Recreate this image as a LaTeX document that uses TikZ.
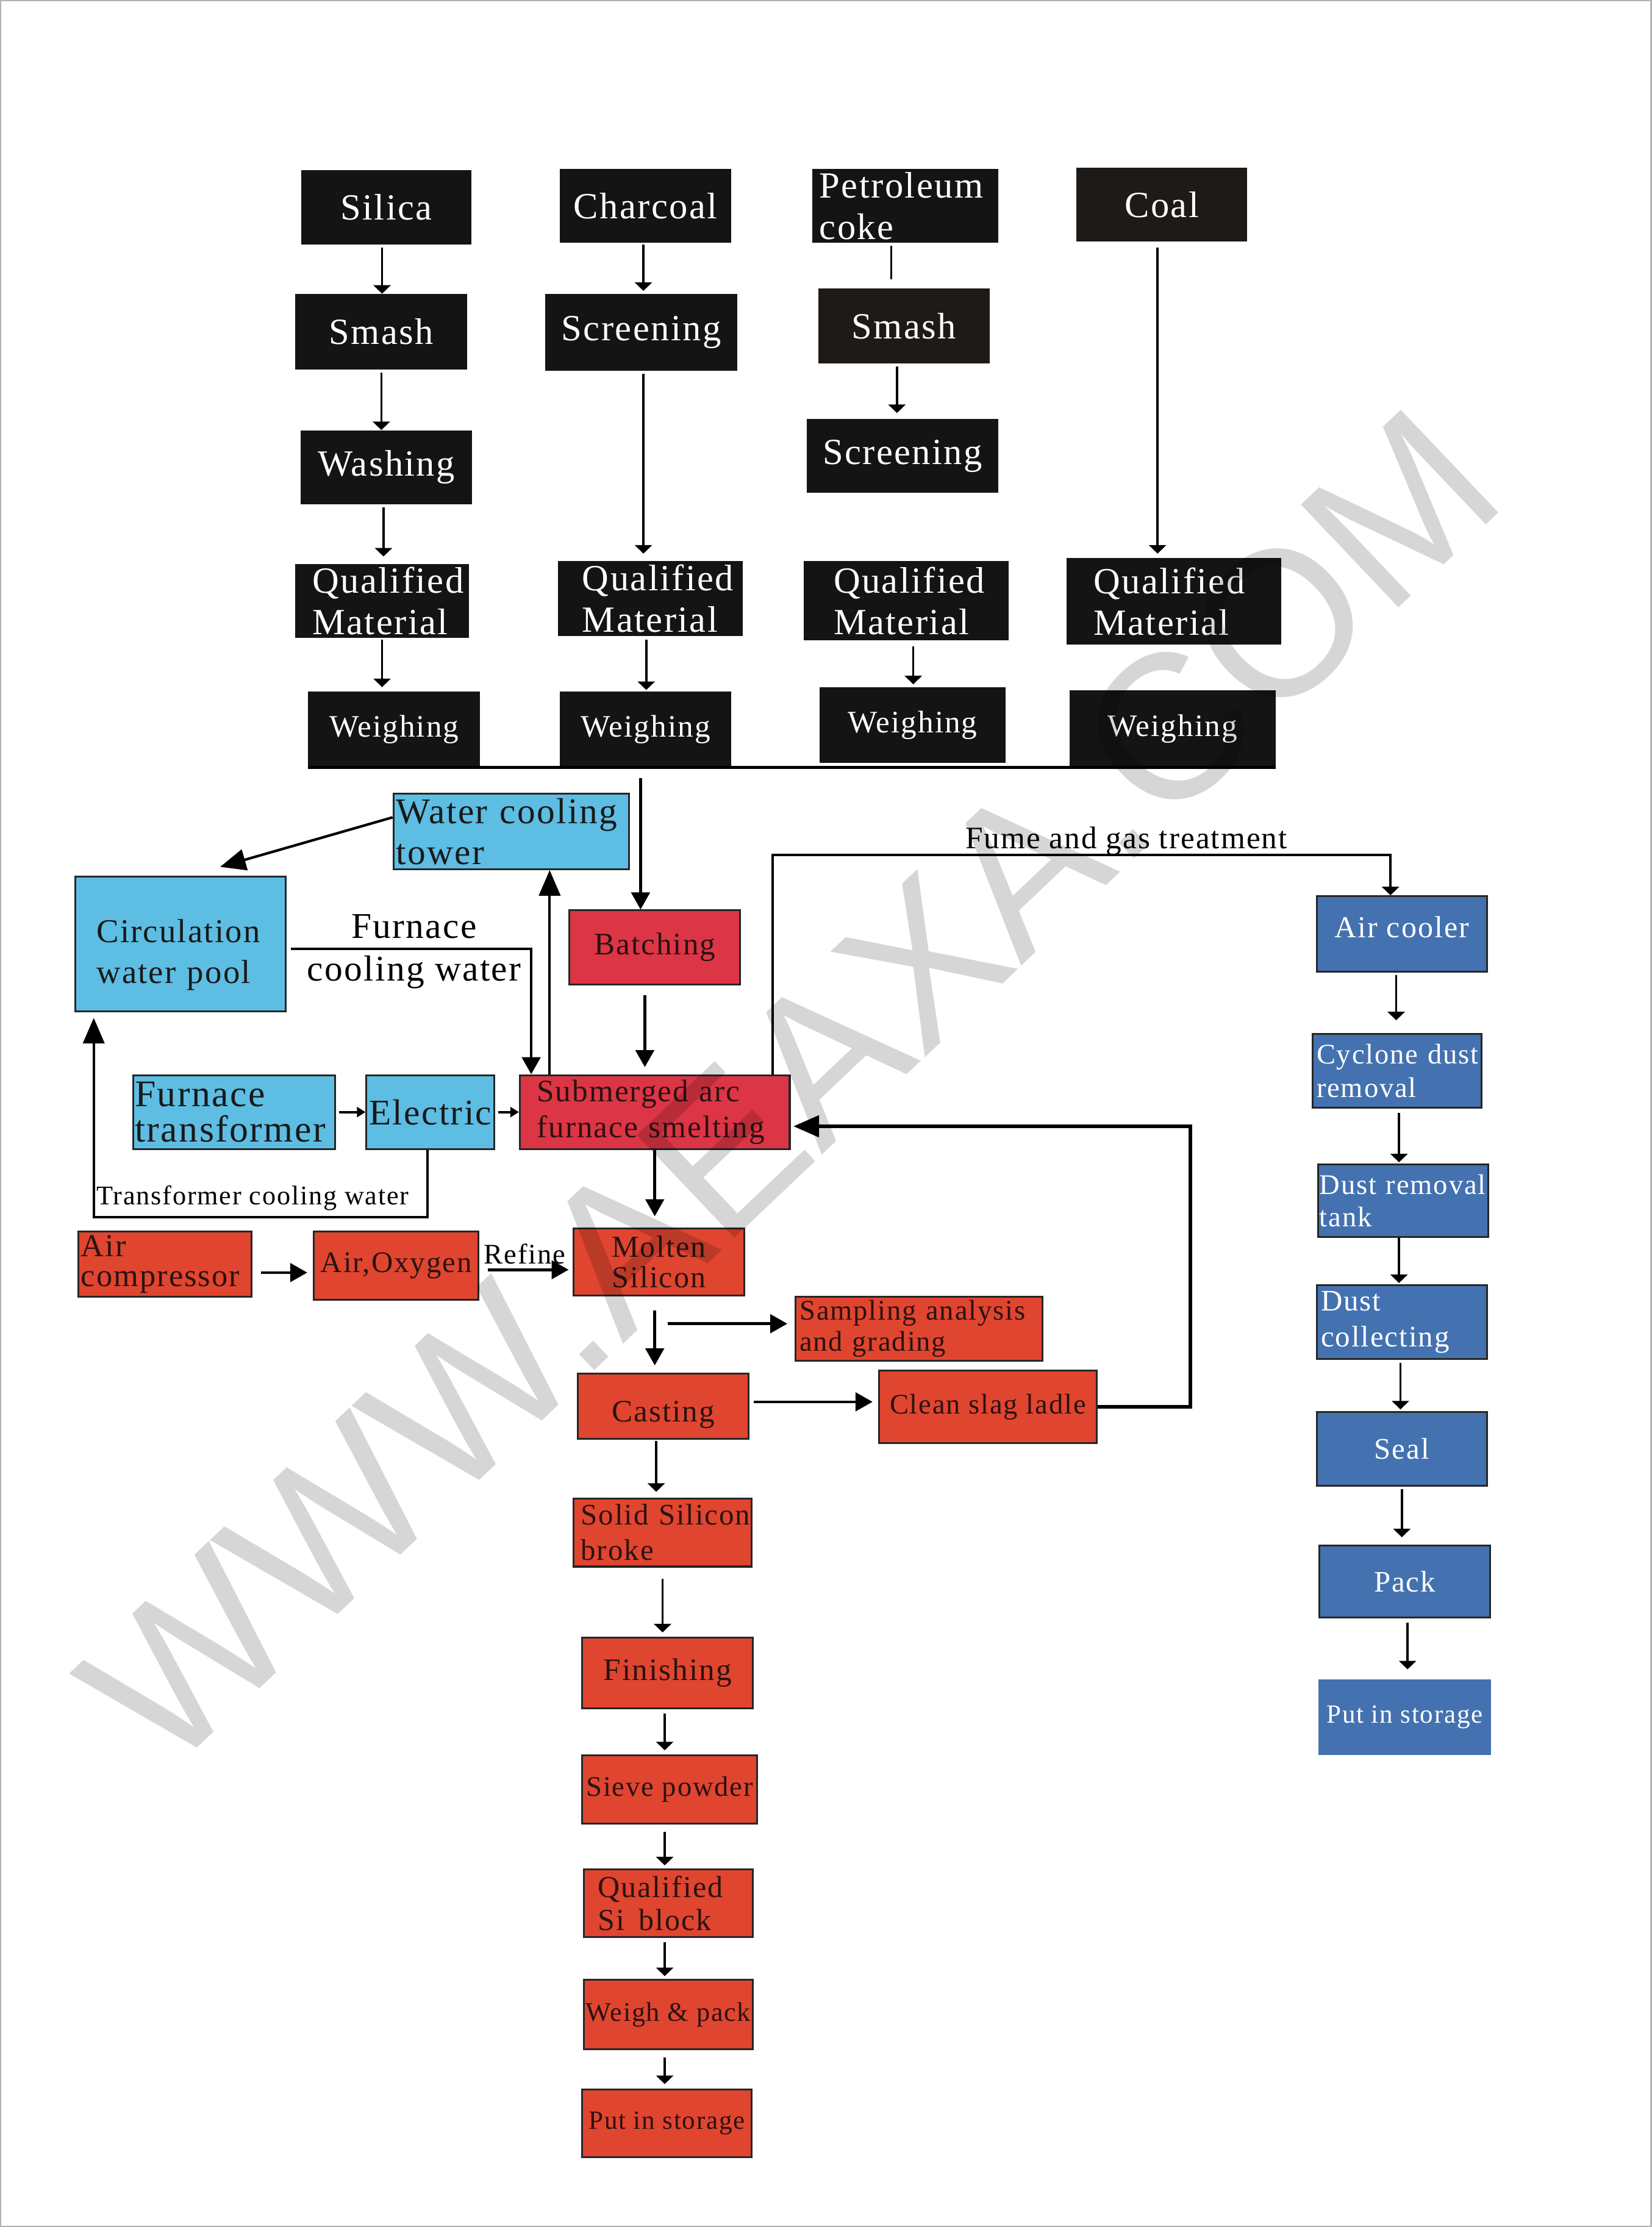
\documentclass[tikz,border=0pt]{standalone}
\usepackage{fontspec}
\setmainfont{Liberation Serif}[LetterSpace=4]
\newfontfamily\wmfont{Liberation Sans}
\usetikzlibrary{arrows.meta}

\definecolor{inkblk}{HTML}{141414}
\definecolor{inkbrn}{HTML}{1E1A17}
\definecolor{cyanfill}{HTML}{5DBDE3}
\definecolor{crimfill}{HTML}{DC3545}
\definecolor{redfill}{HTML}{E0452F}
\definecolor{bluefill}{HTML}{4472B0}
\definecolor{redtext}{HTML}{2A1212}

\newcommand{\fs}[2]{\fontsize{#1}{#2}\selectfont}
\hyphenpenalty=10000
\exhyphenpenalty=10000

\begin{document}
\begin{tikzpicture}[x=1pt, y=-1pt,
  box/.style 2 args={minimum width=#1, minimum height=#2, inner sep=0pt, align=left},
  lt/.style 2 args={text width=#1, inner xsep=#2, align=left},
  blk/.style={fill=inkblk, text=white, font=\fs{26}{29}},
  brn/.style={blk, fill=inkbrn},
  wgh/.style={blk, font=\fs{22}{26}},
  cyn/.style={fill=cyanfill, draw=black!85, line width=1.3pt, text=black!90, font=\fs{25.5}{29}},
  crm/.style={fill=crimfill, draw=black!85, line width=1.3pt, text=redtext, font=\fs{22}{25}},
  orn/.style={crm, fill=redfill, font=\fs{21}{22}},
  blu/.style={fill=bluefill, draw=black!85, line width=1.3pt, text=white, font=\fs{21}{24}},
  lbl/.style={text=black, font=\fs{21}{25}, inner sep=0pt},
  arr/.style={line width=1.6pt, -{Triangle[width=12pt,length=6pt]}},
  marr/.style={line width=2pt, -{Triangle[width=13pt,length=12pt]}},
  barr/.style={line width=1.8pt, -{Triangle[width=15pt,length=18pt]}},
  sarr/.style={line width=1.6pt, -{Triangle[width=7pt,length=6pt]}}
]
\useasboundingbox (0,0) rectangle (1163,1568);
\draw[gray!60, line width=1pt] (0.5,0.5) rectangle (1162.5,1567.5);

% raw materials
\draw (272,146) node[blk, box={120}{52}] (silica) {Silica};
\draw (454.5,145) node[blk, box={121}{52}] (charcoal) {Charcoal};
\draw (637.5,145) node[blk, box={131}{52}, lt={121pt}{5pt}] (petro) {Petroleum\\coke};
\draw (818,144) node[brn, box={120}{52}] (coal) {Coal};
\draw (268.5,233.5) node[blk, box={121}{53}] (smasha) {Smash};
\draw (451.5,234) node[blk, box={135}{54}] (screena) {Screening};
\draw (636.5,229.5) node[brn, box={121}{53}] (smashb) {Smash};
\draw (272,329) node[blk, box={121}{52}] (washing) {Washing};
\draw (635.5,321) node[blk, box={135}{52}] (screenb) {Screening};
\draw (269,423) node[blk, box={122}{52}, lt={98pt}{12pt}] (quala) {Qualified\\Material};
\draw (458,421.5) node[blk, box={130}{53}, lt={96pt}{17pt}] (qualb) {Qualified\\Material};
\draw (638,423) node[blk, box={144}{56}, lt={102pt}{21pt}] (qualc) {Qualified\\Material};
\draw (826.5,423.5) node[blk, box={151}{61}, lt={113pt}{19pt}] (quald) {Qualified\\Material};
\draw (277.5,513.5) node[wgh, box={121}{53}] (weigha) {Weighing};
\draw (454.5,513.5) node[wgh, box={121}{53}] (weighb) {Weighing};
\draw (642.5,510.5) node[wgh, box={131}{53}] (weighc) {Weighing};
\draw (825.5,513) node[wgh, box={145}{54}] (weighd) {Weighing};
\coordinate (busdrop) at (451,548);

% furnace and cooling water
\draw (360,585.5) node[cyn, box={166}{53}, lt={162pt}{2pt}] (tower) {\mbox{Water cooling}\\tower};
\draw (127,664.5) node[cyn, box={148}{95}, lt={118pt}{15pt}, font=\fs{23.5}{29}] (pool) {\rule{0pt}{32pt}Circulation\\\mbox{water pool}};
\draw (461,667) node[crm, box={120}{52}] (batching) {Batching};
\draw (461,783) node[crm, box={190}{52}, lt={166pt}{12pt}] (smelt) {\mbox{Submerged arc}\\\mbox{furnace smelting}};
\draw (165,783) node[cyn, box={142}{52}, lt={140pt}{1pt}, font=\fs{26.5}{25}] (transf) {Furnace\\transformer};
\draw (303,783) node[cyn, box={90}{52}] (electric) {Electric};
\draw (291.5,670) node[lbl, align=center, font=\fs{25.5}{30}] (fcwater) {Furnace\\cooling water};
\draw (178,848) node[lbl, anchor=base, font=\fs{19}{22}] (tcwater) {Transformer cooling water};
\draw (793,597.5) node[lbl, anchor=base, font=\fs{22}{25}] (fumegas) {Fume and gas treatment};
\coordinate (tcwbend) at (301,857);
\coordinate (fumetop) at (544,602);
\coordinate (slagturn) at (838,793);

% silicon line
\draw (116,890) node[orn, box={122}{46}, lt={118pt}{2pt}, font=\fs{22.5}{21}] (aircomp) {Air\\compressor};
\draw (279,891) node[orn, box={116}{48}] (airoxy) {Air,Oxygen};
\draw (369.5,890) node[lbl, anchor=base, font=\fs{20}{22}] (refine) {Refine};
\draw (464,888.5) node[orn, box={120}{47}, font=\fs{21.5}{21.5}] (molten) {Molten\\Silicon};
\draw (647,935.5) node[orn, box={174}{45}, lt={168pt}{3pt}, font=\fs{20}{22}] (sampling) {\mbox{Sampling analysis}\\\mbox{and grading}};
\coordinate (sampstart) at (470,932);
\draw (467,990) node[orn, box={120}{46}, font=\fs{22}{25}] (casting) {\rule{0pt}{27pt}Casting};
\draw (695.5,990.5) node[orn, box={153}{51}, font=\fs{20}{24}] (slag) {Clean slag ladle};
\draw (466.5,1079) node[orn, box={125}{48}, lt={115pt}{5pt}, font=\fs{21}{25}] (solid) {\mbox{Solid Silicon}\\broke};
\draw (470,1178) node[orn, box={120}{50}, font=\fs{22}{25}] (finishing) {Finishing};
\draw (471.5,1260) node[orn, box={123}{48}, font=\fs{20}{24}] (sieve) {Sieve powder};
\draw (470.5,1340) node[orn, box={119}{48}, lt={99pt}{10pt}, font=\fs{21.5}{23}] (qualsi) {Qualified\\\mbox{Si\hspace{10pt}block}};
\draw (470.5,1418.5) node[orn, box={119}{49}, font=\fs{19}{23}] (weighpack) {Weigh \& pack};
\draw (469.5,1495) node[orn, box={119}{48}, font=\fs{18.5}{22}] (storered) {Put in storage};

% gas line
\draw (987,657.5) node[blu, box={120}{53}, font=\fs{21.5}{24}] (aircooler) {\rule[-10pt]{0pt}{0pt}Air cooler};
\draw (983.5,754) node[blu, box={119}{52}, lt={113pt}{3pt}, font=\fs{20}{23.5}] (cyclone) {\mbox{Cyclone dust}\\removal};
\draw (988,845.5) node[blu, box={120}{51}, lt={118pt}{1pt}, font=\fs{20}{23}] (tank) {\mbox{Dust removal}\\tank};
\draw (987,931) node[blu, box={120}{52}, lt={114pt}{3pt}, font=\fs{21}{25.5}] (collecting) {Dust\\collecting};
\draw (987,1020) node[blu, box={120}{52}] (seal) {Seal};
\draw (989,1113.5) node[blu, box={120}{51}] (pack) {Pack};
\draw (989,1209) node[blu, box={120}{52}, draw=bluefill, font=\fs{18.5}{22}] (storeblue) {Put in storage};

% arrows, raw materials
\draw[arr, shorten <=2pt] ([xshift=-3pt]silica.south) -- ([xshift=-3pt]silica.south |- smasha.north);
\draw[arr, shorten <=2pt] (smasha.south) -- (smasha.south |- washing.north);
\draw[arr, shorten <=2pt, shorten >=5pt] ([xshift=-2pt]washing.south) -- ([xshift=-2pt]washing.south |- quala.north);
\draw[arr, shorten <=1pt, shorten >=3pt] (quala.south) -- (quala.south |- weigha.north);
\draw[arr, shorten <=1pt, shorten >=2pt] ([xshift=-1.5pt]charcoal.south) -- ([xshift=-1.5pt]charcoal.south |- screena.north);
\draw[arr, shorten <=2pt, shorten >=5pt] ([xshift=1.5pt]screena.south) -- ([xshift=1.5pt]screena.south |- qualb.north);
\draw[arr, shorten <=2pt, shorten >=1pt] ([xshift=-3pt]qualb.south) -- ([xshift=-3pt]qualb.south |- weighb.north);
\draw[line width=1.6pt, shorten <=2pt, shorten >=6pt] ([xshift=-10pt]petro.south) -- ([xshift=-10pt]petro.south |- smashb.north);
\draw[arr, shorten <=2pt, shorten >=4pt] ([xshift=-5pt]smashb.south) -- ([xshift=-5pt]smashb.south |- screenb.north);
\draw[arr, shorten <=4pt, shorten >=2pt] ([xshift=5pt]qualc.south) -- ([xshift=5pt]qualc.south |- weighc.north);
\draw[arr, shorten <=4pt, shorten >=3pt] ([xshift=-3pt]coal.south) -- ([xshift=-3pt]coal.south |- quald.north);
\draw[line width=2pt] (weigha.south west) -- (weighd.south east);
\draw[marr] (busdrop) -- (busdrop |- batching.north);

% arrows, furnace and cooling water
\draw[marr, shorten <=7pt, shorten >=5pt] ([xshift=-7pt]batching.south) -- ([xshift=-7pt]batching.south |- smelt.north);
\draw[barr] ([yshift=10pt]tower.west) -- ([xshift=28pt,yshift=6pt]pool.north);
\draw[marr] ([xshift=3pt,yshift=-3.5pt]pool.east) -| ([xshift=-87pt]smelt.north);
\draw[barr] ([xshift=-74pt]smelt.north) -- ([xshift=-74pt]smelt.north |- tower.south);
\draw[sarr, shorten <=2pt] (transf.east) -- (electric.west);
\draw[sarr, shorten <=2pt] (electric.east) -- (smelt.west);
\draw[barr] ([xshift=-2pt]electric.south) -- (tcwbend) -| ([xshift=-61pt,yshift=-4pt]pool.south);
\draw[arr] (smelt.north -| fumetop) -- (fumetop) -| ([xshift=-8pt]aircooler.north);
\draw[barr, line width=2.5pt, shorten >=2pt] (slag.east) -| (slagturn) -- ([yshift=-10pt]smelt.east);

% arrows, silicon line
\draw[marr, shorten >=8pt] (smelt.south) -- (smelt.south |- molten.north);
\draw[marr, shorten <=6pt, shorten >=4pt] ([yshift=-6pt]aircomp.east) -- ([yshift=-6pt]aircomp.east -| airoxy.west);
\draw[marr, shorten <=6pt, shorten >=3pt] ([yshift=-3pt]airoxy.east) -- ([yshift=-3pt]airoxy.east -| molten.west);
\draw[marr, shorten <=10pt, shorten >=5pt] ([xshift=-3pt]molten.south) -- ([xshift=-3pt]molten.south |- casting.north);
\draw[marr, shorten >=5pt] (sampstart) -- (sampstart -| sampling.west);
\draw[marr, shorten <=3pt, shorten >=4pt] ([yshift=3pt]casting.east) -- ([yshift=3pt]casting.east -| slag.west);
\draw[arr, shorten <=1pt, shorten >=4pt] ([xshift=-5pt]casting.south) -- ([xshift=-5pt]casting.south |- solid.north);
\draw[arr, shorten <=8pt, shorten >=3pt] (solid.south) -- (solid.south |- finishing.north);
\draw[arr, shorten <=3pt, shorten >=3pt] ([xshift=-2pt]finishing.south) -- ([xshift=-2pt]finishing.south |- sieve.north);
\draw[arr, shorten <=5pt, shorten >=2pt] ([xshift=-3.5pt]sieve.south) -- ([xshift=-3.5pt]sieve.south |- qualsi.north);
\draw[arr, shorten <=3pt, shorten >=2pt] ([xshift=-2.5pt]qualsi.south) -- ([xshift=-2.5pt]qualsi.south |- weighpack.north);
\draw[arr, shorten <=5pt, shorten >=3pt] ([xshift=-2.5pt]weighpack.south) -- ([xshift=-2.5pt]weighpack.south |- storered.north);

% arrows, gas line
\draw[arr, shorten <=2pt, shorten >=9pt] ([xshift=-4pt]aircooler.south) -- ([xshift=-4pt]aircooler.south |- cyclone.north);
\draw[arr, shorten <=3pt, shorten >=1pt] ([xshift=1.5pt]cyclone.south) -- ([xshift=1.5pt]cyclone.south |- tank.north);
\draw[arr, shorten >=1pt] ([xshift=-3pt]tank.south) -- ([xshift=-3pt]tank.south |- collecting.north);
\draw[arr, shorten <=2pt, shorten >=1pt] ([xshift=-1pt]collecting.south) -- ([xshift=-1pt]collecting.south |- seal.north);
\draw[arr, shorten <=2pt, shorten >=5pt] (seal.south) -- (seal.south |- pack.north);
\draw[arr, shorten <=3pt, shorten >=7pt] ([xshift=2pt]pack.south) -- ([xshift=2pt]pack.south |- storeblue.north);

% watermark
\node[rotate=43.5, text=black, text opacity=0.16, font=\wmfont\fontsize{145}{145}\selectfont, inner sep=0pt] (watermark) at (556,766) {WWW.AEAXA.COM};
\end{tikzpicture}
\end{document}
